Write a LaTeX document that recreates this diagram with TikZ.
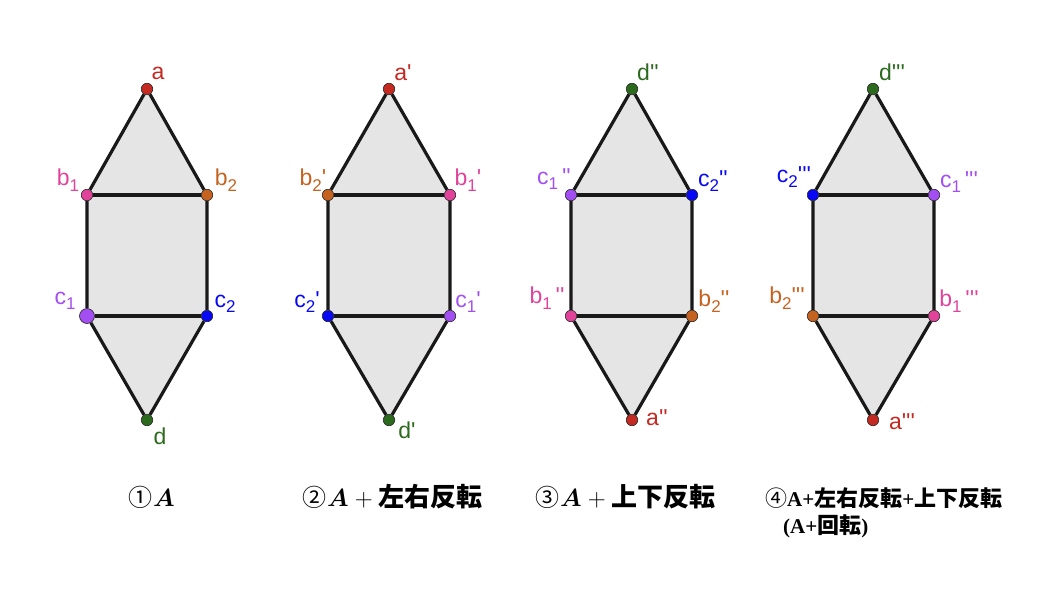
\documentclass[tikz,border=0pt]{standalone}
\usepackage{amsmath,bm}
\usepackage{xcolor}
\usepackage{fontspec}
\usetikzlibrary{backgrounds}
\newfontfamily\geo{Liberation Sans}
\newfontfamily\jp{Noto Sans CJK JP}
\newfontfamily\tnr{Liberation Serif}
\definecolor{colA}{HTML}{C42A22}
\definecolor{colBa}{HTML}{E2439A}
\definecolor{colBb}{HTML}{C6621F}
\definecolor{colCa}{HTML}{A34EF2}
\definecolor{colCb}{HTML}{0808F5}
\definecolor{colD}{HTML}{2C6A1E}
\newcommand{\sub}[1]{\raisebox{-5.5pt}{\fontsize{17}{17}\selectfont #1}}
\newcommand{\pr}{\textquotesingle}
\newcommand{\jpb}{\jp\bfseries\fontsize{22}{22}\selectfont}
\newcommand{\jpB}{\jp\bfseries\fontsize{26}{26}\selectfont}
\newcommand{\num}[1]{{\jp\fontsize{24}{24}\selectfont #1}}
\newcommand{\bigplus}{{\fontsize{36}{36}\selectfont$+$}}
\tikzset{
  pt/.style={circle, draw=black!85, line width=0.6pt, fill=#1, inner sep=0pt, minimum size=11.5pt},
  lbl/.style={font=\geo\fontsize{23}{23}\selectfont, text=#1, inner sep=0pt},
  side/.style={line width=3.2pt, black!90},
  face/.style={fill=black!10},
  capt/.style={anchor=base west, inner sep=0pt, font=\fontsize{24}{24}\selectfont}
}
% dot with its label: [options]{name}{x,y}{colour}{label shift}{label}
\newcommand{\Vtx}[6][]{%
  \node[pt=#4,#1] (#2) at (#3) {};
  \node[lbl=#4] (#2-l) at ([shift={(#5)}]#2) {#6};}
\newcommand{\Hexa}[1]{%
  \begin{scope}[on background layer]
    \fill[face] (#1t.center) -- (#1ur.center) -- (#1lr.center) -- (#1b.center) -- (#1ll.center) -- (#1ul.center) -- cycle;
    \draw[side] (#1t) -- (#1ul) -- (#1ll) -- (#1b) -- (#1lr) -- (#1ur) -- (#1t);
    \draw[side] (#1ul) -- (#1ur);
    \draw[side] (#1ll) -- (#1lr);
  \end{scope}}

\begin{document}
\begin{tikzpicture}[x=1pt,y=-1pt]
        \useasboundingbox (0,0) rectangle (1055,597);
        % 1
        \Vtx{At}{147,89}{colA}{11,-16}{a}
        \Vtx{Aul}{87,195}{colBa}{-19,-15}{b\sub{1}}
        \Vtx{Aur}{207,195}{colBb}{19,-15}{b\sub{2}}
        \Vtx[minimum size=15pt]{All}{87,316}{colCa}{-22,-15}{c\sub{1}}
        \Vtx{Alr}{207,316}{colCb}{18,-12}{c\sub{2}}
        \Vtx{Ab}{147,420}{colD}{13,16}{d}
        \Hexa{A}
        % 2
        \Vtx{Bt}{389,89}{colA}{14,-16}{a\pr}
        \Vtx{Bul}{328,195}{colBb}{-15,-15}{b\sub{2}\pr}
        \Vtx{Bur}{450,195}{colBa}{18,-15}{b\sub{1}\pr}
        \Vtx{Bll}{328,316}{colCb}{-21,-14}{c\sub{2}\pr}
        \Vtx{Blr}{450,316}{colCa}{18,-14}{c\sub{1}\pr}
        \Vtx{Bb}{389,420}{colD}{18,10}{d\pr}
        \Hexa{B}
        % 3
        \Vtx{Ct}{632,89}{colD}{16,-17}{d\pr\pr}
        \Vtx{Cul}{571,195}{colCa}{-17,-16}{c\sub{1}\,\pr\pr}
        \Vtx{Cur}{692,195}{colCb}{21,-14}{c\sub{2}\pr\pr}
        \Vtx{Cll}{571,316}{colBa}{-24,-18}{b\sub{1}\,\pr\pr}
        \Vtx{Clr}{692,316}{colBb}{22,-15}{b\sub{2}\pr\pr}
        \Vtx{Cb}{632,420}{colA}{25,-2}{a\pr\pr}
        \Hexa{C}
        % 4
        \Vtx{Dt}{873,89}{colD}{19,-17}{d\pr\pr\pr}
        \Vtx{Dul}{813,195}{colCb}{-19,-18}{c\sub{2}\pr\pr\pr}
        \Vtx{Dur}{934,195}{colCa}{25,-13}{c\sub{1}\,\pr\pr\pr}
        \Vtx{Dll}{813,316}{colBb}{-26,-18}{b\sub{2}\pr\pr\pr}
        \Vtx{Dlr}{934,316}{colBa}{25,-15}{b\sub{1}\,\pr\pr\pr}
        \Vtx{Db}{873,420}{colA}{29,2}{a\pr\pr\pr}
        \Hexa{D}
        % captions
        \node[capt] (capA) at (128,506) {\num{①}\hspace{1pt}$\bm{A}$};
        \node[capt] (capB) at (302,506) {\num{②}\hspace{1pt}$\bm{A}$\hspace{6pt}\bigplus\hspace{6pt}{\jpB 左右反転}};
        \node[capt] (capC) at (535,506) {\num{③}\hspace{1pt}$\bm{A}$\hspace{6pt}\bigplus\hspace{6pt}{\jpB 上下反転}};
        \node[capt] (capD) at (765,506) {{\jp\fontsize{22}{22}\selectfont ④}{\tnr\bfseries\fontsize{21}{21}\selectfont A+}{\jpb 左右反転}{\tnr\bfseries\fontsize{21}{21}\selectfont +}{\jpb 上下反転}};
        \node[capt] (capE) at (783,533) {{\tnr\bfseries\fontsize{21}{21}\selectfont (A+}{\jpb 回転}{\tnr\bfseries\fontsize{21}{21}\selectfont )}};
\end{tikzpicture}
\end{document}
